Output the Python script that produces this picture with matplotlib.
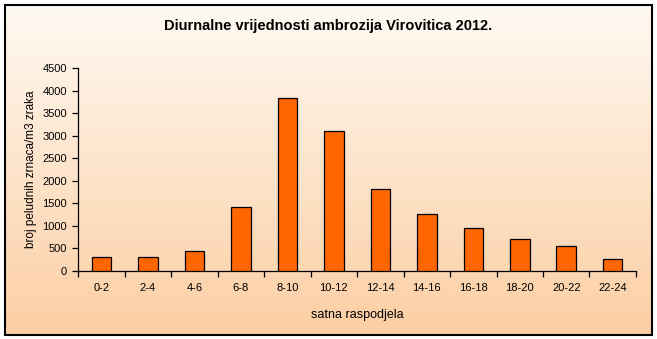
import numpy as np
import matplotlib.pyplot as plt
from matplotlib.patches import Rectangle

plt.rcParams['font.family'] = ['Liberation Sans', 'DejaVu Sans']

hours = ['0-2', '2-4', '4-6', '6-8', '8-10', '10-12', '12-14', '14-16',
         '16-18', '18-20', '20-22', '22-24']
counts = [305, 300, 437, 1414, 3834, 3101, 1813, 1259, 948, 704, 548, 260]

fig = plt.figure(figsize=(6.57, 3.39), dpi=100)

# background gradient (light cream at top, peach at bottom)
bg = fig.add_axes([0, 0, 1, 1], zorder=-2)
top_c = np.array([255, 250, 244]) / 255
bot_c = np.array([252, 206, 162]) / 255
t = np.linspace(0, 1, 256)[:, None]
grad = top_c * (1 - t) + bot_c * t
bg.imshow(grad[:, None, :].repeat(2, axis=1), aspect='auto', extent=[0, 1, 0, 1])
bg.set_xlim(0, 1)
bg.set_ylim(0, 1)
bg.axis('off')
# white outer margin + black frame
for r in [Rectangle((0, 0), 1, 4 / 339), Rectangle((0, 1 - 4 / 339), 1, 4 / 339),
          Rectangle((0, 0), 4 / 657, 1), Rectangle((1 - 5 / 657, 0), 5 / 657, 1)]:
    r.set_facecolor('white')
    r.set_edgecolor('none')
    bg.add_patch(r)
bg.add_patch(Rectangle((4.5 / 657, 4.5 / 339), 1 - 10 / 657, 1 - 9.5 / 339,
                       fill=False, edgecolor='black', linewidth=1.5))

ax = fig.add_axes([0.119, 0.2006, 0.849, 0.598])
ax.patch.set_alpha(0)
x = np.arange(len(hours))
ax.bar(x, counts, width=0.42, color='#ff6600', edgecolor='black', linewidth=0.9, zorder=3)

ax.set_xlim(-0.5, len(hours) - 0.5)
ax.set_ylim(0, 4500)
ax.set_yticks(range(0, 4501, 500))
ax.set_xticks(x)
ax.set_xticklabels(hours)
ax.set_xticks(np.arange(-0.5, len(hours), 1), minor=True)
ax.tick_params(axis='x', which='major', length=0, labelsize=8, pad=9)
ax.tick_params(axis='x', which='minor', length=4, width=0.9, direction='out')
ax.tick_params(axis='y', length=4, width=0.9, labelsize=8, pad=4)

for s in ['top', 'right']:
    ax.spines[s].set_visible(False)
ax.spines['left'].set_linewidth(0.9)
ax.spines['bottom'].set_linewidth(0.9)

ax.set_xlabel('satna raspodjela', fontsize=9, labelpad=11)
ax.set_ylabel('broj peludnih zrnaca/m3 zraka', fontsize=8.5, labelpad=4)

fig.text(0.5, 1 - 26 / 339, 'Diurnalne vrijednosti ambrozija Virovitica 2012.',
         ha='center', va='center', fontsize=10.5, fontweight='bold')

fig.savefig('out.png', dpi=100)
